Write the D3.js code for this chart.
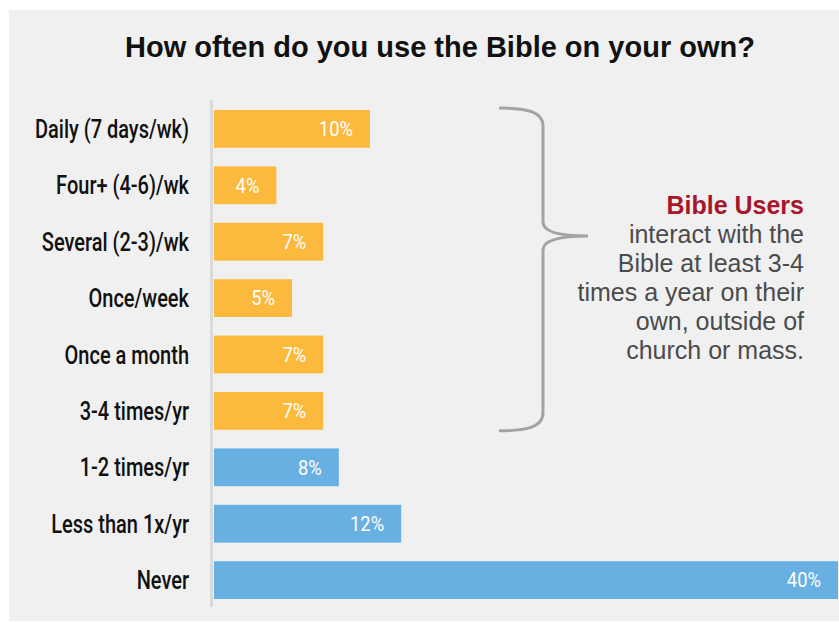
<!DOCTYPE html>
<html>
<head>
<meta charset="utf-8">
<script src="https://cdn.jsdelivr.net/npm/d3@7"></script>
<style>
  html, body { margin: 0; padding: 0; background: #ffffff; }
  svg { display: block; }
</style>
</head>
<body>
<svg id="chart" width="839" height="622"></svg>
<script>
// Survey answers, top to bottom
const categories = [
  "Daily (7 days/wk)", "Four+ (4-6)/wk", "Several (2-3)/wk", "Once/week",
  "Once a month", "3-4 times/yr", "1-2 times/yr", "Less than 1x/yr", "Never"
];
const percents = [10, 4, 7, 5, 7, 7, 8, 12, 40];
// Rows counted as "Bible Users" (at least 3-4 times a year)
const userGroup = [true, true, true, true, true, true, false, false, false];

const titleText = "How often do you use the Bible on your own?";
const noteHead = "Bible Users";
const noteLines = [
  "interact with the", "Bible at least 3-4", "times a year on their",
  "own, outside of", "church or mass."
];

const svg = d3.select("#chart");
// condensed look: Roboto squeezed horizontally
const condensed = "Roboto, 'Liberation Sans', sans-serif";
const squeeze = 0.8;
const valueSqueeze = 0.92;
const sans = "'Liberation Sans', Arial, Helvetica, sans-serif";

// panel background
svg.append("rect")
  .attr("x", 9).attr("y", 10).attr("width", 830).attr("height", 611)
  .attr("fill", "#f0f0f0");

// title
svg.append("text")
  .attr("x", 440).attr("y", 57)
  .attr("text-anchor", "middle")
  .attr("font-family", sans).attr("font-weight", "bold")
  .attr("font-size", 29).attr("fill", "#111")
  .text(titleText);

const x = d3.scaleLinear().domain([0, 40]).range([214, 838]);
const y = d3.scaleBand().domain(categories).range([100.7, 608.3]).paddingInner(0.33).paddingOuter(0.165);

// category axis line
svg.append("line")
  .attr("x1", 211.5).attr("x2", 211.5)
  .attr("y1", 100).attr("y2", 607)
  .attr("stroke", "#d9dadc").attr("stroke-width", 3);

// bars
svg.append("g").selectAll("rect")
  .data(categories)
  .join("rect")
  .attr("x", x(0))
  .attr("y", d => y(d))
  .attr("width", (d, i) => x(percents[i]) - x(0))
  .attr("height", y.bandwidth())
  .attr("fill", (d, i) => userGroup[i] ? "#fbb93e" : "#68b0e1");

// category labels
svg.append("g").selectAll("text")
  .data(categories)
  .join("text")
  .attr("transform", d => `translate(189,${y(d) + y.bandwidth() / 2}) scale(${squeeze},1)`)
  .attr("dy", "0.36em")
  .attr("text-anchor", "end")
  .attr("font-family", condensed)
  .attr("font-weight", 500)
  .attr("font-size", 25)
  .attr("fill", "#111")
  .text(d => d);

// value labels inside the bars
svg.append("g").selectAll("text")
  .data(categories)
  .join("text")
  .attr("dy", "0.36em")
  .attr("font-family", condensed)
  .attr("font-size", 20)
  .attr("fill", "#ffffff")
  .text((d, i) => percents[i] + "%")
  .each(function(d, i) {
    const w = this.getComputedTextLength() * valueSqueeze;
    const end = x(percents[i]) - 17;
    const start = Math.max(end - w, x(0) + 9);
    d3.select(this).attr("transform",
      `translate(${start},${y(d) + y.bandwidth() / 2}) scale(${valueSqueeze},1)`);
  });

// brace around the Bible-user rows
const braceTop = y(categories[0]) - 2;
const braceBot = y(categories[5]) + y.bandwidth() + 1;
const braceMid = 236;
const bx = 543, lx = 499, tip = 588;
const brace = d3.path();
brace.moveTo(lx, braceTop);
brace.bezierCurveTo(525, braceTop, bx, braceTop + 3, bx, braceTop + 18);
brace.lineTo(bx, braceMid - 14);
brace.bezierCurveTo(bx, braceMid - 4, 560, braceMid, tip, braceMid);
brace.bezierCurveTo(560, braceMid, bx, braceMid + 4, bx, braceMid + 14);
brace.lineTo(bx, braceBot - 18);
brace.bezierCurveTo(bx, braceBot - 3, 525, braceBot, lx, braceBot);
svg.append("path")
  .attr("d", brace.toString())
  .attr("fill", "none")
  .attr("stroke", "#a3a3a3")
  .attr("stroke-width", 3);

// annotation
const note = svg.append("text")
  .attr("text-anchor", "end")
  .attr("font-family", sans)
  .attr("font-size", 25);
note.append("tspan")
  .attr("x", 804).attr("y", 214)
  .attr("font-weight", "bold").attr("fill", "#a8162b")
  .text(noteHead);
noteLines.forEach((t, i) => {
  note.append("tspan")
    .attr("x", 804).attr("y", 243 + i * 28.9)
    .attr("fill", "#4b4b4d")
    .text(t);
});
</script>
</body>
</html>
